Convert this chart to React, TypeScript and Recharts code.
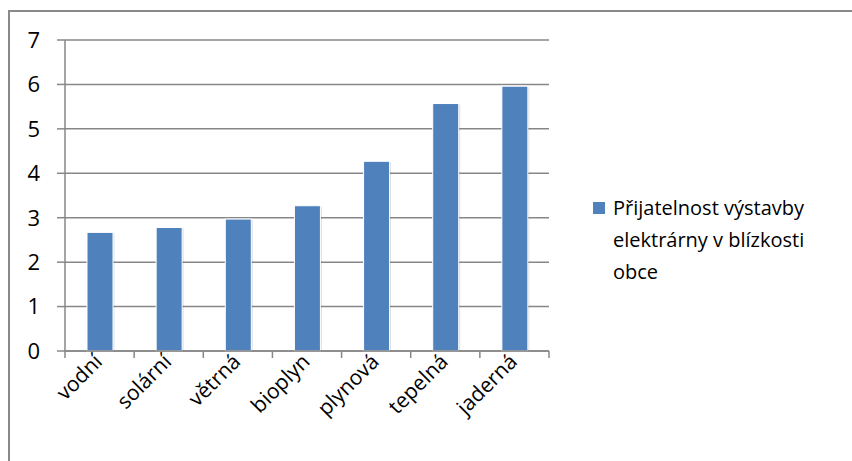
import React from "react";
import { BarChart, Bar, XAxis, YAxis, CartesianGrid } from "recharts";

const categories = ["vodní", "solární", "větrná", "bioplyn", "plynová", "tepelná", "jaderná"];
const values = [2.67, 2.78, 2.97, 3.27, 4.27, 5.57, 5.96];
const yTicks = [0, 1, 2, 3, 4, 5, 6, 7];
const seriesName = "Přijatelnost výstavby elektrárny v blízkosti obce";

const data = categories.map((name, i) => ({ name, value: values[i] }));

const FONT = "'Open Sans', 'Noto Sans', sans-serif";
const GRID = "#878787";
const BLUE = "#4F81BD";
const PLOT_LEFT = 65;
const PLOT_RIGHT = 549;
const BAND = (PLOT_RIGHT - PLOT_LEFT) / categories.length;

const XTick = (props: any) => {
  const { x, y, payload, index } = props;
  const tx = x + 4;
  const ty = y + 12;
  return (
    <g>
      <line x1={x - BAND / 2} y1={y} x2={x - BAND / 2} y2={y + 7} stroke={GRID} strokeWidth={1.5} />
      {index === categories.length - 1 && (
        <line x1={x + BAND / 2} y1={y} x2={x + BAND / 2} y2={y + 7} stroke={GRID} strokeWidth={1.5} />
      )}
      <text
        x={tx}
        y={ty}
        textAnchor="end"
        fontSize={21}
        fontFamily={FONT}
        fill="#000"
        transform={`rotate(-45, ${tx}, ${ty})`}
      >
        {payload.value}
      </text>
    </g>
  );
};

const BarShape = (props: any) => {
  const { x, y, width, height } = props;
  return (
    <g>
      <rect x={x + 1.5} y={y + 1} width={width} height={height} fill="rgba(0,0,0,0.12)" />
      <rect x={x} y={y} width={width} height={height} fill={BLUE} stroke="#ffffff" strokeWidth={1} />
    </g>
  );
};

export default function App() {
  return (
    <div style={{ position: "absolute", left: 0, top: 0, width: 852, height: 461, overflow: "hidden", background: "#fff" }}>
      <div
        style={{
          position: "absolute",
          left: 8,
          top: 10,
          width: 900,
          height: 500,
          borderTop: "2px solid #898989",
          borderLeft: "2px solid #898989",
        }}
      />
      <div style={{ position: "absolute", left: 0, top: 0 }}>
        <BarChart
          width={852}
          height={461}
          data={data}
          margin={{ top: 40, right: 852 - PLOT_RIGHT, bottom: 0, left: 0 }}
          barSize={26}
        >
          <CartesianGrid vertical={false} stroke={GRID} strokeWidth={1.5} />
          <XAxis
            dataKey="name"
            axisLine={{ stroke: GRID, strokeWidth: 1.5 }}
            tickLine={false}
            tickSize={0}
            tickMargin={0}
            interval={0}
            tick={<XTick />}
            height={110}
          />
          <YAxis
            domain={[0, 7]}
            ticks={yTicks}
            interval={0}
            width={PLOT_LEFT}
            axisLine={{ stroke: GRID, strokeWidth: 1.5 }}
            tickLine={{ stroke: GRID, strokeWidth: 1.5 }}
            tickSize={8}
            tickMargin={17}
            tick={{ fontSize: 22, fontFamily: FONT, fill: "#000" }}
          />
          <Bar dataKey="value" name={seriesName} shape={<BarShape />} isAnimationActive={false} />
        </BarChart>
      </div>
      <div
        style={{
          position: "absolute",
          left: 593,
          top: 192,
          display: "flex",
          fontFamily: FONT,
          fontSize: 20,
          lineHeight: "32px",
          color: "#000",
        }}
      >
        <div style={{ width: 12, height: 12, background: BLUE, marginTop: 10, marginRight: 8, flexShrink: 0 }} />
        <div style={{ width: 228 }}>{seriesName}</div>
      </div>
    </div>
  );
}
